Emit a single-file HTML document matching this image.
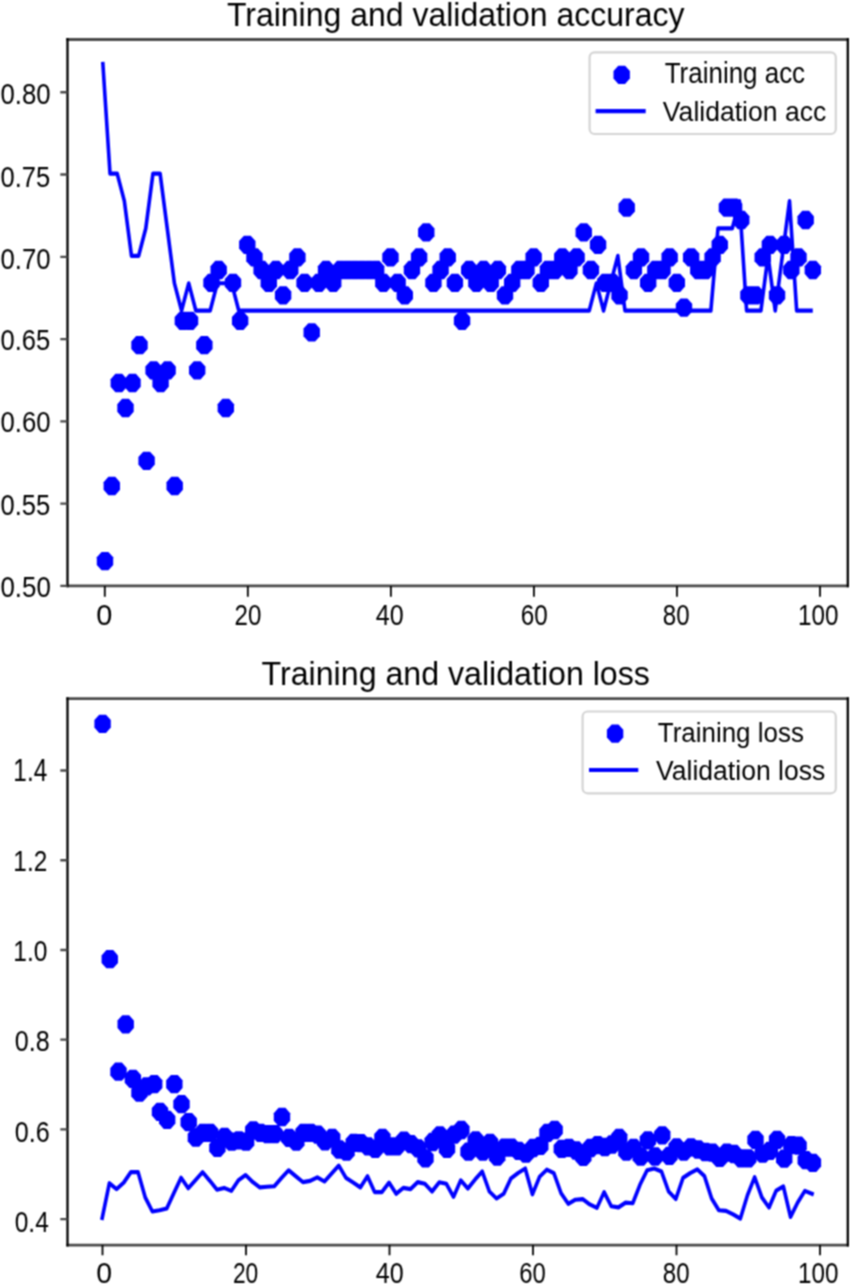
<!DOCTYPE html>
<html><head><meta charset="utf-8"><title>Training and validation</title>
<style>
html,body{margin:0;padding:0;background:#fff;}
body{width:850px;height:1285px;overflow:hidden;}
svg{display:block;font-family:"Liberation Sans", sans-serif;}
</style></head><body>
<svg width="850" height="1285" viewBox="0 0 850 1285">
<defs>
<path id="d" d="M8.20 3.79L3.40 9.15L-3.40 9.15L-8.20 3.79L-8.20 -3.79L-3.40 -9.15L3.40 -9.15L8.20 -3.79Z"/>
<filter id="bl" filterUnits="userSpaceOnUse" x="0" y="0" width="850" height="1285" color-interpolation-filters="sRGB"><feConvolveMatrix order="3" kernelMatrix="1 2 1 2 4 2 1 2 1" edgeMode="duplicate"/></filter>
</defs>
<g filter="url(#bl)">
<rect width="850" height="1285" fill="#fff"/>
<path d="M66.35 39.5H848.95M66.35 585.9H848.95" stroke="#4a4a4a" stroke-width="2.8" fill="none"/><path d="M67.5 38.10V587.30M847.8 38.10V587.30" stroke="#000" stroke-width="2.3" fill="none"/>
<text transform="translate(0.49,597.11) scale(0.8801,1)" font-size="29.38" fill="#000">0.50</text>
<text transform="translate(0.50,515.00) scale(0.8484,1)" font-size="30.08" fill="#000">0.55</text>
<text transform="translate(0.50,432.01) scale(0.8807,1)" font-size="29.24" fill="#000">0.60</text>
<text transform="translate(0.50,350.00) scale(0.8484,1)" font-size="30.08" fill="#000">0.65</text>
<text transform="translate(0.50,269.00) scale(0.8599,1)" font-size="29.94" fill="#000">0.70</text>
<text transform="translate(0.50,187.00) scale(0.8484,1)" font-size="30.08" fill="#000">0.75</text>
<text transform="translate(0.50,103.50) scale(0.8599,1)" font-size="29.94" fill="#000">0.80</text>
<text transform="translate(96.27,624.81) scale(0.9874,1)" font-size="29.24" fill="#000">0</text>
<text transform="translate(234.59,624.81) scale(0.8258,1)" font-size="29.24" fill="#000">20</text>
<text transform="translate(375.82,624.81) scale(0.8600,1)" font-size="29.24" fill="#000">40</text>
<text transform="translate(520.86,624.81) scale(0.8300,1)" font-size="29.24" fill="#000">60</text>
<text transform="translate(662.76,624.81) scale(0.8235,1)" font-size="29.24" fill="#000">80</text>
<text transform="translate(797.96,624.81) scale(0.8303,1)" font-size="29.24" fill="#000">100</text>
<path d="M104.80 585.9V596.7 M247.84 585.9V596.7 M390.88 585.9V596.7 M533.92 585.9V596.7 M676.96 585.9V596.7 M820.00 585.9V596.7" stroke="#000" stroke-width="1.8" fill="none"/>
<path d="M60.3 585.90H67.5 M60.3 503.63H67.5 M60.3 421.37H67.5 M60.3 339.10H67.5 M60.3 256.84H67.5 M60.3 174.57H67.5 M60.3 92.31H67.5" stroke="#4a4a4a" stroke-width="2.4" fill="none"/>
<text transform="translate(226.90,25.60) scale(0.9876,1)" font-size="32.41" fill="#000">Training and validation accuracy</text>
<g fill="#0000ff"><use href="#d" x="105.00" y="561.10"/><use href="#d" x="111.80" y="486.00"/><use href="#d" x="118.80" y="383.00"/><use href="#d" x="125.50" y="408.00"/><use href="#d" x="132.50" y="383.00"/><use href="#d" x="139.50" y="345.20"/><use href="#d" x="146.60" y="460.80"/><use href="#d" x="153.60" y="370.30"/><use href="#d" x="160.60" y="383.00"/><use href="#d" x="167.60" y="370.30"/><use href="#d" x="174.70" y="486.00"/><use href="#d" x="182.87" y="320.80"/><use href="#d" x="190.03" y="320.80"/><use href="#d" x="197.19" y="370.30"/><use href="#d" x="204.35" y="345.20"/><use href="#d" x="211.51" y="282.80"/><use href="#d" x="218.67" y="270.00"/><use href="#d" x="225.83" y="408.00"/><use href="#d" x="232.98" y="282.80"/><use href="#d" x="240.14" y="320.80"/><use href="#d" x="247.30" y="244.80"/><use href="#d" x="254.46" y="257.40"/><use href="#d" x="261.62" y="270.00"/><use href="#d" x="268.78" y="282.80"/><use href="#d" x="275.94" y="270.00"/><use href="#d" x="283.10" y="295.30"/><use href="#d" x="290.25" y="270.00"/><use href="#d" x="297.41" y="257.40"/><use href="#d" x="304.57" y="282.80"/><use href="#d" x="311.73" y="332.40"/><use href="#d" x="318.89" y="282.80"/><use href="#d" x="326.05" y="270.00"/><use href="#d" x="333.21" y="282.80"/><use href="#d" x="340.36" y="270.00"/><use href="#d" x="347.52" y="270.00"/><use href="#d" x="354.68" y="270.00"/><use href="#d" x="361.84" y="270.00"/><use href="#d" x="369.00" y="270.00"/><use href="#d" x="376.16" y="270.00"/><use href="#d" x="383.32" y="282.80"/><use href="#d" x="390.47" y="257.40"/><use href="#d" x="397.63" y="282.80"/><use href="#d" x="404.79" y="295.30"/><use href="#d" x="411.95" y="270.00"/><use href="#d" x="419.11" y="257.40"/><use href="#d" x="426.27" y="232.40"/><use href="#d" x="433.43" y="282.80"/><use href="#d" x="440.58" y="270.00"/><use href="#d" x="447.74" y="257.40"/><use href="#d" x="454.90" y="282.80"/><use href="#d" x="462.06" y="320.80"/><use href="#d" x="469.22" y="270.00"/><use href="#d" x="476.38" y="282.80"/><use href="#d" x="483.54" y="270.00"/><use href="#d" x="490.69" y="282.80"/><use href="#d" x="497.85" y="270.00"/><use href="#d" x="505.01" y="295.30"/><use href="#d" x="512.17" y="282.80"/><use href="#d" x="519.33" y="270.00"/><use href="#d" x="526.49" y="270.00"/><use href="#d" x="533.65" y="257.40"/><use href="#d" x="540.80" y="282.80"/><use href="#d" x="547.96" y="270.00"/><use href="#d" x="555.12" y="270.00"/><use href="#d" x="562.28" y="257.40"/><use href="#d" x="569.44" y="270.00"/><use href="#d" x="576.60" y="257.40"/><use href="#d" x="583.76" y="232.40"/><use href="#d" x="590.91" y="270.00"/><use href="#d" x="598.07" y="244.80"/><use href="#d" x="605.23" y="282.80"/><use href="#d" x="612.39" y="282.80"/><use href="#d" x="619.55" y="295.30"/><use href="#d" x="626.71" y="207.60"/><use href="#d" x="633.87" y="270.00"/><use href="#d" x="641.02" y="257.40"/><use href="#d" x="648.18" y="282.80"/><use href="#d" x="655.34" y="270.00"/><use href="#d" x="662.50" y="270.00"/><use href="#d" x="669.66" y="257.40"/><use href="#d" x="676.82" y="282.80"/><use href="#d" x="683.98" y="307.60"/><use href="#d" x="691.14" y="257.40"/><use href="#d" x="698.29" y="270.00"/><use href="#d" x="705.45" y="270.00"/><use href="#d" x="712.61" y="257.40"/><use href="#d" x="719.77" y="244.80"/><use href="#d" x="726.93" y="207.60"/><use href="#d" x="734.09" y="207.60"/><use href="#d" x="741.25" y="220.00"/><use href="#d" x="748.40" y="295.30"/><use href="#d" x="755.56" y="295.30"/><use href="#d" x="762.72" y="257.40"/><use href="#d" x="769.88" y="244.80"/><use href="#d" x="777.04" y="295.30"/><use href="#d" x="784.20" y="244.80"/><use href="#d" x="791.36" y="270.00"/><use href="#d" x="798.51" y="257.40"/><use href="#d" x="805.67" y="220.00"/><use href="#d" x="812.83" y="270.00"/></g>
<polyline transform="scale(1,1.15)" points="102.88,55.555 110.03,150.935 117.18,150.935 124.34,174.780 131.49,222.470 138.64,222.470 145.79,198.625 152.95,150.935 160.10,150.935 167.25,198.625 174.40,246.314 181.56,270.159 188.71,246.314 195.86,270.159 203.01,270.159 210.17,270.159 217.32,246.314 224.47,246.314 231.62,246.314 238.78,270.159 245.93,270.159 253.08,270.159 260.23,270.159 267.39,270.159 274.54,270.159 281.69,270.159 288.84,270.159 295.99,270.159 303.15,270.159 310.30,270.159 317.45,270.159 324.60,270.159 331.76,270.159 338.91,270.159 346.06,270.159 353.21,270.159 360.37,270.159 367.52,270.159 374.67,270.159 381.82,270.159 388.98,270.159 396.13,270.159 403.28,270.159 410.43,270.159 417.59,270.159 424.74,270.159 431.89,270.159 439.04,270.159 446.20,270.159 453.35,270.159 460.50,270.159 467.65,270.159 474.80,270.159 481.96,270.159 489.11,270.159 496.26,270.159 503.41,270.159 510.57,270.159 517.72,270.159 524.87,270.159 532.02,270.159 539.18,270.159 546.33,270.159 553.48,270.159 560.63,270.159 567.79,270.159 574.94,270.159 582.09,270.159 589.24,270.159 596.40,246.314 603.55,270.159 610.70,246.314 617.85,222.470 625.01,270.159 632.16,270.159 639.31,270.159 646.46,270.159 653.61,270.159 660.77,270.159 667.92,270.159 675.07,270.159 682.22,270.159 689.38,270.159 696.53,270.159 703.68,270.159 710.83,270.159 717.99,198.625 725.14,198.625 732.29,198.625 739.44,174.780 746.60,270.159 753.75,270.159 760.90,270.159 768.05,222.470 775.21,270.159 782.36,222.470 789.51,174.780 796.66,270.159 803.82,270.159 810.97,270.159" fill="none" stroke="#0000ff" stroke-width="3.6" stroke-linejoin="round" stroke-linecap="square"/>
<rect x="589.6" y="52.3" width="246.2" height="81.7" rx="5" ry="5" fill="#fff" fill-opacity="0.8" stroke="#d4d4d4" stroke-width="2.2"/>
<use href="#d" x="621.7" y="74.8" fill="#0000ff"/>
<path d="M595.6 111.1H645.7" stroke="#0000ff" stroke-width="4.14" stroke-linecap="butt"/>
<text transform="translate(664.73,83.20) scale(0.9021,1)" font-size="28.78" fill="#000">Training acc</text>
<text transform="translate(662.87,120.70) scale(0.9569,1)" font-size="27.76" fill="#000">Validation acc</text>
<path d="M66.35 698.6H848.95M66.35 1245.1H848.95" stroke="#4a4a4a" stroke-width="2.8" fill="none"/><path d="M67.5 697.20V1246.50M847.8 697.20V1246.50" stroke="#000" stroke-width="2.3" fill="none"/>
<text transform="translate(14.74,1231.60) scale(0.8185,1)" font-size="29.94" fill="#000">0.4</text>
<text transform="translate(14.72,1141.60) scale(0.8367,1)" font-size="30.08" fill="#000">0.6</text>
<text transform="translate(14.72,1050.61) scale(0.8603,1)" font-size="29.24" fill="#000">0.8</text>
<text transform="translate(13.33,960.60) scale(0.8160,1)" font-size="30.08" fill="#000">1.0</text>
<text transform="translate(13.35,871.40) scale(0.8023,1)" font-size="30.37" fill="#000">1.2</text>
<text transform="translate(13.35,780.90) scale(0.7868,1)" font-size="30.96" fill="#000">1.4</text>
<text transform="translate(96.29,1283.31) scale(0.9923,1)" font-size="28.67" fill="#000">0</text>
<text transform="translate(232.96,1283.31) scale(0.7944,1)" font-size="28.67" fill="#000">20</text>
<text transform="translate(375.82,1283.31) scale(0.8769,1)" font-size="28.67" fill="#000">40</text>
<text transform="translate(519.18,1283.31) scale(0.8327,1)" font-size="28.67" fill="#000">60</text>
<text transform="translate(662.76,1283.31) scale(0.8398,1)" font-size="28.67" fill="#000">80</text>
<text transform="translate(797.96,1283.31) scale(0.8467,1)" font-size="28.67" fill="#000">100</text>
<path d="M102.50 1245.1V1255.2 M246.00 1245.1V1255.2 M389.50 1245.1V1255.2 M533.00 1245.1V1255.2 M676.50 1245.1V1255.2 M820.00 1245.1V1255.2" stroke="#000" stroke-width="1.8" fill="none"/>
<path d="M60.3 1219.15H67.5 M60.3 1129.41H67.5 M60.3 1039.67H67.5 M60.3 949.93H67.5 M60.3 860.19H67.5 M60.3 770.45H67.5" stroke="#4a4a4a" stroke-width="2.4" fill="none"/>
<text transform="translate(261.59,685.10) scale(0.9746,1)" font-size="32.99" fill="#000">Training and validation loss</text>
<g fill="#0000ff"><use href="#d" x="102.60" y="723.80"/><use href="#d" x="109.77" y="959.20"/><use href="#d" x="118.50" y="1071.70"/><use href="#d" x="125.70" y="1024.30"/><use href="#d" x="132.90" y="1078.90"/><use href="#d" x="139.45" y="1092.60"/><use href="#d" x="146.60" y="1086.40"/><use href="#d" x="154.20" y="1084.10"/><use href="#d" x="160.00" y="1111.80"/><use href="#d" x="167.18" y="1119.80"/><use href="#d" x="174.35" y="1084.10"/><use href="#d" x="181.52" y="1104.20"/><use href="#d" x="188.70" y="1122.10"/><use href="#d" x="195.88" y="1137.50"/><use href="#d" x="203.05" y="1132.80"/><use href="#d" x="210.22" y="1132.80"/><use href="#d" x="217.40" y="1147.80"/><use href="#d" x="224.57" y="1136.80"/><use href="#d" x="231.75" y="1141.60"/><use href="#d" x="238.92" y="1140.30"/><use href="#d" x="246.10" y="1141.60"/><use href="#d" x="253.27" y="1130.40"/><use href="#d" x="260.45" y="1132.80"/><use href="#d" x="267.62" y="1134.10"/><use href="#d" x="274.80" y="1134.10"/><use href="#d" x="281.98" y="1117.00"/><use href="#d" x="289.15" y="1137.80"/><use href="#d" x="296.32" y="1141.70"/><use href="#d" x="303.50" y="1132.90"/><use href="#d" x="310.67" y="1132.90"/><use href="#d" x="317.85" y="1134.60"/><use href="#d" x="325.02" y="1141.30"/><use href="#d" x="332.20" y="1137.80"/><use href="#d" x="339.38" y="1149.50"/><use href="#d" x="346.55" y="1151.60"/><use href="#d" x="353.73" y="1142.80"/><use href="#d" x="360.90" y="1143.10"/><use href="#d" x="368.07" y="1146.30"/><use href="#d" x="375.25" y="1148.80"/><use href="#d" x="382.42" y="1137.80"/><use href="#d" x="389.60" y="1146.30"/><use href="#d" x="396.77" y="1146.30"/><use href="#d" x="403.95" y="1140.60"/><use href="#d" x="411.12" y="1144.20"/><use href="#d" x="418.30" y="1148.40"/><use href="#d" x="425.48" y="1158.30"/><use href="#d" x="432.65" y="1142.00"/><use href="#d" x="439.82" y="1135.30"/><use href="#d" x="447.00" y="1148.80"/><use href="#d" x="454.17" y="1134.70"/><use href="#d" x="461.35" y="1130.00"/><use href="#d" x="468.52" y="1151.60"/><use href="#d" x="475.70" y="1140.30"/><use href="#d" x="482.88" y="1151.60"/><use href="#d" x="490.05" y="1142.80"/><use href="#d" x="497.23" y="1156.50"/><use href="#d" x="504.40" y="1147.70"/><use href="#d" x="511.57" y="1147.70"/><use href="#d" x="518.75" y="1150.90"/><use href="#d" x="525.92" y="1153.70"/><use href="#d" x="533.10" y="1148.00"/><use href="#d" x="540.27" y="1145.90"/><use href="#d" x="547.45" y="1132.90"/><use href="#d" x="554.62" y="1130.00"/><use href="#d" x="561.80" y="1148.80"/><use href="#d" x="568.98" y="1147.80"/><use href="#d" x="576.15" y="1150.50"/><use href="#d" x="583.32" y="1156.90"/><use href="#d" x="590.50" y="1148.00"/><use href="#d" x="597.67" y="1145.20"/><use href="#d" x="604.85" y="1147.00"/><use href="#d" x="612.02" y="1144.50"/><use href="#d" x="619.20" y="1138.00"/><use href="#d" x="626.38" y="1151.60"/><use href="#d" x="633.55" y="1148.00"/><use href="#d" x="640.73" y="1156.50"/><use href="#d" x="647.90" y="1140.30"/><use href="#d" x="655.08" y="1156.50"/><use href="#d" x="662.25" y="1135.30"/><use href="#d" x="669.42" y="1155.80"/><use href="#d" x="676.60" y="1147.50"/><use href="#d" x="683.77" y="1151.60"/><use href="#d" x="690.95" y="1147.30"/><use href="#d" x="698.12" y="1149.50"/><use href="#d" x="705.30" y="1152.00"/><use href="#d" x="712.48" y="1152.60"/><use href="#d" x="719.65" y="1157.90"/><use href="#d" x="726.83" y="1152.60"/><use href="#d" x="734.00" y="1154.00"/><use href="#d" x="741.17" y="1158.30"/><use href="#d" x="748.35" y="1158.30"/><use href="#d" x="755.52" y="1139.90"/><use href="#d" x="762.70" y="1153.70"/><use href="#d" x="769.88" y="1150.90"/><use href="#d" x="777.05" y="1139.90"/><use href="#d" x="784.23" y="1158.60"/><use href="#d" x="791.40" y="1145.20"/><use href="#d" x="798.58" y="1145.70"/><use href="#d" x="805.75" y="1160.20"/><use href="#d" x="812.92" y="1162.80"/></g>
<polyline transform="scale(1,1.15)" points="102.20,1059.043 109.37,1028.870 116.54,1034.000 123.71,1028.348 130.88,1019.217 138.05,1019.217 145.22,1041.217 152.39,1053.478 159.56,1052.435 166.73,1050.870 173.90,1037.391 181.07,1024.087 188.24,1033.217 195.41,1026.348 202.58,1019.217 209.75,1026.696 216.92,1034.522 224.09,1032.957 231.26,1035.565 238.43,1026.348 245.60,1021.739 252.77,1027.913 259.94,1032.522 267.11,1032.000 274.28,1031.478 281.45,1024.348 288.62,1017.652 295.79,1022.783 302.96,1027.913 310.13,1026.870 317.30,1023.826 324.47,1027.391 331.64,1020.435 338.81,1013.565 345.98,1024.261 353.15,1028.261 360.32,1032.522 367.49,1022.783 374.66,1036.609 381.83,1036.609 389.00,1028.348 396.17,1038.087 403.34,1032.957 410.51,1034.000 417.68,1027.913 424.85,1029.391 432.02,1036.087 439.19,1028.087 446.36,1029.391 453.53,1040.696 460.70,1026.348 467.87,1033.478 475.04,1025.739 482.21,1018.696 489.38,1036.087 496.55,1042.174 503.72,1038.087 510.89,1024.783 518.06,1020.000 525.23,1016.087 532.40,1038.609 539.57,1023.304 546.74,1017.130 553.91,1020.174 561.08,1037.565 568.25,1046.783 575.42,1043.217 582.59,1042.696 589.76,1047.304 596.93,1050.348 604.10,1036.609 611.27,1048.870 618.44,1049.913 625.61,1045.739 632.78,1046.261 639.95,1030.261 647.12,1017.652 654.29,1016.087 661.46,1018.696 668.63,1036.087 675.80,1042.696 682.97,1024.261 690.14,1020.087 697.31,1016.870 704.48,1022.783 711.65,1042.174 718.82,1052.435 725.99,1052.957 733.16,1056.000 740.33,1059.652 747.50,1039.217 754.67,1023.652 761.84,1041.217 769.01,1050.000 776.18,1035.304 783.35,1031.652 790.52,1058.174 797.69,1045.652 804.86,1035.565 812.03,1038.087" fill="none" stroke="#0000ff" stroke-width="3.6" stroke-linejoin="round" stroke-linecap="square"/>
<rect x="582.6" y="711.5" width="253.2" height="81.8" rx="5" ry="5" fill="#fff" fill-opacity="0.8" stroke="#d4d4d4" stroke-width="2.2"/>
<use href="#d" x="615.1" y="733.6" fill="#0000ff"/>
<path d="M589.0 770H638.3" stroke="#0000ff" stroke-width="4.14" stroke-linecap="butt"/>
<text transform="translate(657.83,742.00) scale(0.9200,1)" font-size="28.20" fill="#000">Training loss</text>
<text transform="translate(655.97,779.80) scale(0.9425,1)" font-size="28.20" fill="#000">Validation loss</text>
</g>
</svg>
</body></html>
